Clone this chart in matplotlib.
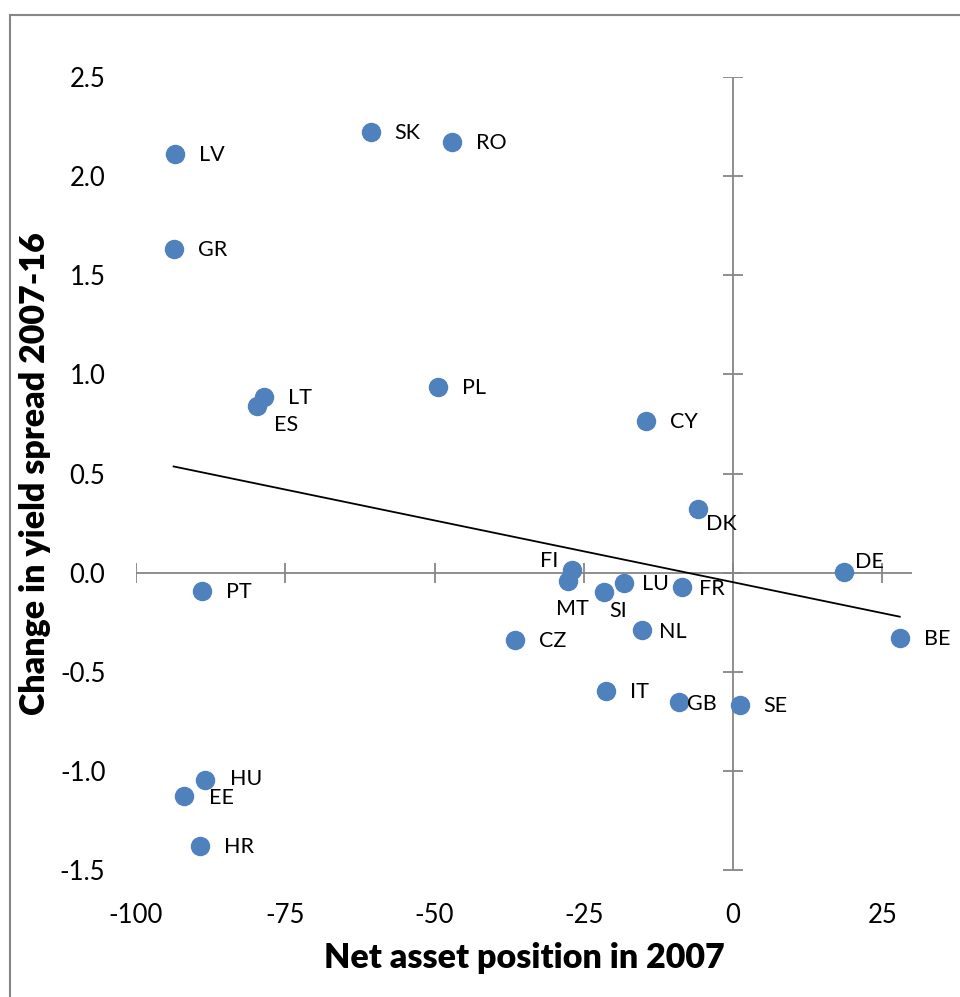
import numpy as np
import matplotlib.pyplot as plt
from matplotlib.patches import Rectangle

# データ
countries = ['LV', 'GR', 'SK', 'RO', 'LT', 'ES', 'PL', 'CY', 'DK', 'DE', 'BE', 'PT',
             'FI', 'MT', 'SI', 'LU', 'FR', 'NL', 'CZ', 'IT', 'GB', 'SE', 'HU', 'EE', 'HR']
net_asset = [-93.4, -93.7, -60.7, -47.0, -78.6, -79.7, -49.4, -14.6, -5.9, 18.6, 27.9, -89.0,
             -27.0, -27.7, -21.7, -18.2, -8.6, -15.3, -36.5, -21.3, -9.0, 1.1, -88.5, -91.9, -89.2]
spread_change = [2.114, 1.63, 2.225, 2.17, 0.888, 0.838, 0.938, 0.767, 0.323, 0.005, -0.328, -0.091,
                 0.014, -0.04, -0.096, -0.052, -0.071, -0.289, -0.338, -0.599, -0.651, -0.669,
                 -1.044, -1.125, -1.377]

x_ticks = [-100, -75, -50, -25, 0, 25]
y_ticks = [-1.5, -1.0, -0.5, 0.0, 0.5, 1.0, 1.5, 2.0, 2.5]

# ラベル位置（点からのピクセルオフセット, 下向き正）と揃え
label_pos = {
    'ES': (17, 19, 'left'), 'DK': (8, 15, 'left'), 'DE': (11, -10, 'left'),
    'FI': (-14, -9, 'right'), 'MT': (5, 28, 'center'), 'SI': (15, 19, 'center'),
    'LU': (18, 1, 'left'), 'FR': (17, 2, 'left'), 'NL': (17, 2, 'left'),
    'GB': (8, 2, 'left'), 'HU': (25, -1, 'left'), 'EE': (25, 2, 'left'),
}
default_pos = (24, 1, 'left')

FONT = 'Lato'
AXIS_GRAY = '#868686'
DOT = '#4F81BD'

fig = plt.figure(figsize=(9.6, 9.97), dpi=100)
W, H = 960, 997
ax = fig.add_axes([136 / W, 1 - 870 / H, (912.3 - 136) / W, (870 - 77) / H])
ax.set_xlim(-100, 30)
ax.set_ylim(-1.5, 2.5)

for s in ax.spines.values():
    s.set_visible(False)

# 目盛ラベルは外側（Excelの「下端/左端」）
ax.set_xticks(x_ticks)
ax.set_yticks(y_ticks)
ax.set_xticklabels([str(t) for t in x_ticks], fontfamily=FONT, fontsize=18.5)
ax.set_yticklabels([f'{t:.1f}' for t in y_ticks], fontfamily=FONT, fontsize=18.5)
ax.tick_params(axis='both', length=0)
ax.tick_params(axis='x', pad=24)
ax.tick_params(axis='y', pad=22)

# 0で交差する軸
ax.axhline(0, color=AXIS_GRAY, lw=1.3, zorder=1)
ax.axvline(0, color=AXIS_GRAY, lw=1.3, zorder=1)
ax.plot(x_ticks, [0] * len(x_ticks), ls='none', marker='|', ms=14, mew=1.3,
        color=AXIS_GRAY, zorder=1)
ax.plot([0] * len(y_ticks), y_ticks, ls='none', marker='_', ms=14, mew=1.3,
        color=AXIS_GRAY, zorder=1)

# 近似直線
slope, intercept = np.polyfit(net_asset, spread_change, 1)
xs = np.array([min(net_asset), max(net_asset)])
ax.plot(xs, slope * xs + intercept, color='black', lw=1.3, zorder=2)

ax.scatter(net_asset, spread_change, s=13 ** 2, color=DOT, edgecolor=DOT, zorder=3)

for name, x, y in zip(countries, net_asset, spread_change):
    dx, dy, ha = label_pos.get(name, default_pos)
    ax.annotate(name, (x, y), xytext=(dx * 0.72, -dy * 0.72), textcoords='offset points',
                ha=ha, va='center', fontfamily=FONT, fontsize=15.5, zorder=4)

ax.set_xlabel('Net asset position in 2007', fontfamily=FONT, fontsize=24.5,
              fontweight='heavy', labelpad=10)
ax.set_ylabel('Change in yield spread 2007-16', fontfamily=FONT, fontsize=24.5,
              fontweight='heavy', labelpad=6)

# 外枠（右と下は画像の外）
fig.add_artist(Rectangle((10 / W, -0.1), 2, 1 - 15 / H + 0.1, transform=fig.transFigure,
                         fill=False, edgecolor=AXIS_GRAY, lw=1.5))

fig.savefig('out.png', dpi=100)
